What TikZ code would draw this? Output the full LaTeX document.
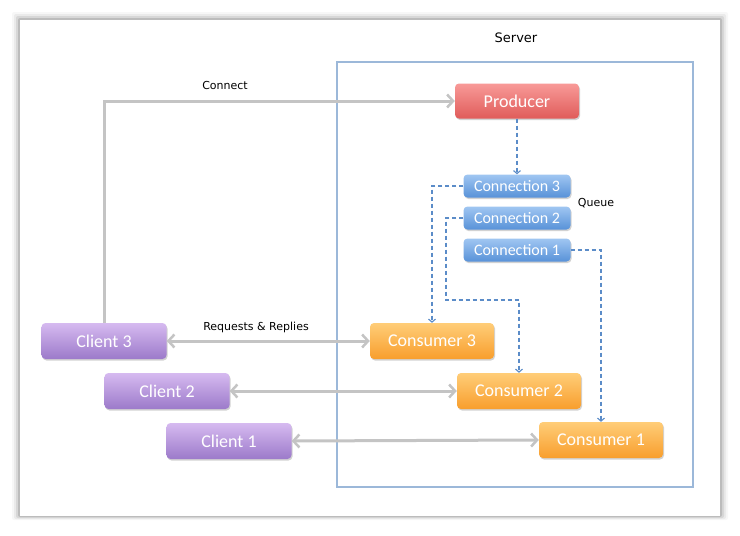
\documentclass[tikz,border=0pt]{standalone}
\usepackage{fontspec}
\setmainfont{Carlito}
\newfontfamily\lblfont{DejaVu Sans}
\usetikzlibrary{arrows.meta,shadows,calc}
\definecolor{grayarrow}{HTML}{C4C4C4}
\definecolor{bluedash}{HTML}{5B8CC8}
\definecolor{serverline}{HTML}{9CB8D9}
\definecolor{prodtop}{HTML}{F89A98}
\definecolor{prodbot}{HTML}{E05C5A}
\definecolor{conntop}{HTML}{A0C6F2}
\definecolor{connbot}{HTML}{5892D8}
\definecolor{constop}{HTML}{FFCD78}
\definecolor{consbot}{HTML}{F89E2D}
\definecolor{clitop}{HTML}{D6BAF0}
\definecolor{clibot}{HTML}{9C7ACA}
\tikzset{
  box/.style={rounded corners=4pt, text=white, inner sep=0pt, draw=none,
    drop shadow={shadow xshift=1pt, shadow yshift=-1.5pt, opacity=0.35}},
  prod/.style={box, minimum width=124pt, minimum height=35pt, top color=prodtop, bottom color=prodbot, font=\fontsize{18}{20}\selectfont},
  conn/.style={box, minimum width=107pt, minimum height=23pt, top color=conntop, bottom color=connbot, font=\fontsize{16}{18}\selectfont},
  cons/.style={box, minimum width=124pt, minimum height=36pt, top color=constop, bottom color=consbot, font=\fontsize{18}{20}\selectfont},
  cli/.style={box, minimum width=125pt, minimum height=36pt, top color=clitop, bottom color=clibot, font=\fontsize{18}{20}\selectfont},
  grayarr/.style={draw=grayarrow, line width=3pt, -{Straight Barb[length=6pt,width=13pt,line width=2.5pt]}},
  graydbl/.style={draw=grayarrow, line width=3pt, {Straight Barb[length=6pt,width=13pt,line width=2.5pt]}-{Straight Barb[length=6pt,width=13pt,line width=2.5pt]}},
  dasharr/.style={draw=bluedash, line width=1.3pt, dash pattern=on 4pt off 3pt, -{Straight Barb[length=3pt,width=7pt,line width=1.1pt]}},
  lbl/.style={font=\lblfont\fontsize{11}{13}\selectfont, text=black, inner sep=1pt}
}
\begin{document}
\begin{tikzpicture}[x=1pt,y=-1pt]
\useasboundingbox (0,0) rectangle (740,536);
% page with shadow
\fill[white] (0,0) rectangle (740,536);
\foreach \i/\o in {8/0.03,6/0.05,4/0.08,2/0.12} {
  \fill[black,opacity=\o,rounded corners=2pt] (20-\i,20-\i) rectangle (720+\i,516+\i/2);
}
\fill[white] (20,20) rectangle (720,516);
% server box
\node[lbl, font=\lblfont\fontsize{13}{15}\selectfont] (serverlbl) at (516,38) {Server};
\draw[serverline, line width=1.2pt] (337,62) rectangle (693,487);
% nodes
\node[prod] (producer) at (517,101) {Producer};
\node[conn] (c3) at (517,186) {Connection 3};
\node[conn] (c2) at (517,218) {Connection 2};
\node[conn] (c1) at (517,250) {Connection 1};
\node[lbl] (queue) at (596,203) {Queue};
\node[cons] (k3) at (432,341) {Consumer 3};
\node[cons] (k2) at (519,391) {Consumer 2};
\node[cons] (k1) at (601,440) {Consumer 1};
\node[cli] (l3) at (104,341) {Client 3};
\node[cli] (l2) at (167,391) {Client 2};
\node[cli] (l1) at (229,441) {Client 1};
% labels
\node[lbl] (connectlbl) at (225,85) {Connect};
\node[lbl] (reqlbl) at (256,327) {Requests \& Replies};
% connect
\draw[grayarr] (l3.north) |- (producer.west);
% requests
\draw[graydbl] (l3.east) -- (k3.west);
\draw[graydbl] (l2.east) -- (k2.west);
\draw[graydbl] (l1.east) -- (k1.west);
% dashed
\draw[dasharr] (producer.south) -- (c3.north);
\draw[dasharr] (c3.west) -| (k3.north);
\coordinate (bend2) at (446,300);
\draw[dasharr] (c2.west) -| (bend2) -| (k2.north);
\draw[dasharr] (c1.east) -| (k1.north);
\end{tikzpicture}
\end{document}
